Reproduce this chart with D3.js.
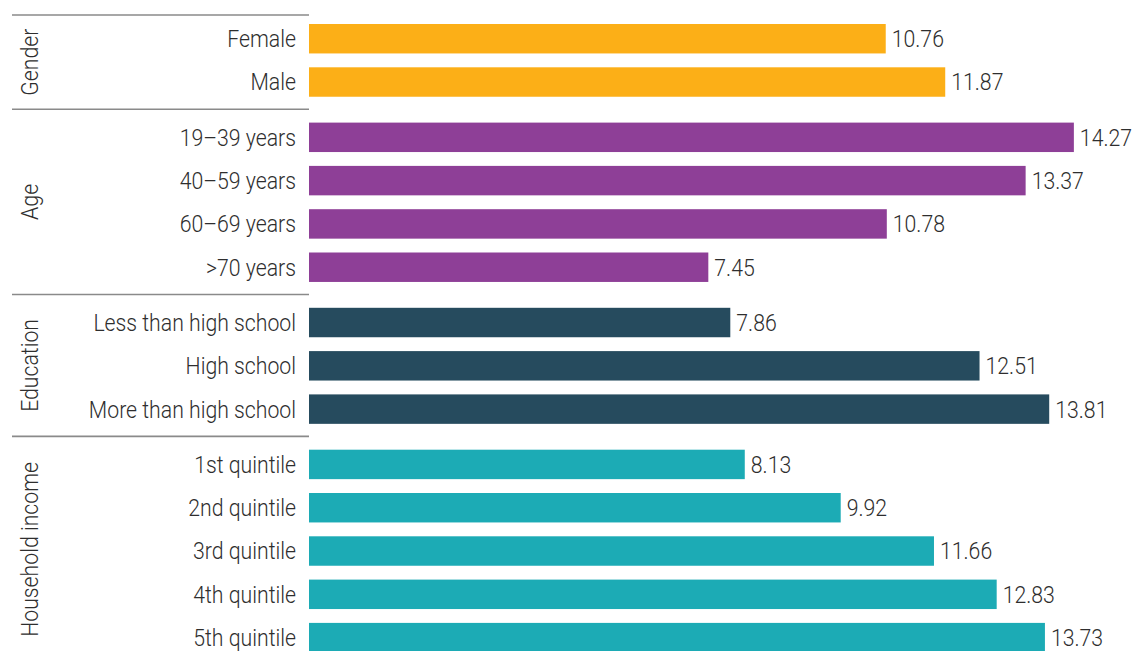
<!DOCTYPE html>
<html>
<head>
<meta charset="utf-8">
<script src="https://cdn.jsdelivr.net/npm/d3@7"></script>
<style>
  html, body { margin: 0; padding: 0; background: #fff; }
  svg { display: block; }
  text { font-family: Roboto, "Noto Sans", sans-serif; font-weight: 300; fill: #2e2e2e; }
</style>
</head>
<body>
<svg id="chart" width="1134" height="651"></svg>
<script>
// Group headings, categories and their values
const groups = ["Gender", "Age", "Education", "Household income"];
const categories = [
  "Female", "Male",
  "19\u201339 years", "40\u201359 years", "60\u201369 years", ">70 years",
  "Less than high school", "High school", "More than high school",
  "1st quintile", "2nd quintile", "3rd quintile", "4th quintile", "5th quintile"
];
const values = [10.76, 11.87, 14.27, 13.37, 10.78, 7.45, 7.86, 12.51, 13.81, 8.13, 9.92, 11.66, 12.83, 13.73];
const groupOf = [0, 0, 1, 1, 1, 1, 2, 2, 2, 3, 3, 3, 3, 3];
const groupColors = ["#FCAF17", "#8E3F97", "#264B5E", "#1CABB5"];

const rows = categories.map((c, i) => ({ cat: c, value: values[i], group: groupOf[i] }));

const svg = d3.select("#chart");
const fontSize = 24;
const squeeze = 0.885;    // narrow letterforms
const groupGap = 12;

const x = d3.scaleLinear().domain([0, 15]).range([309, 309 + 15 * 53.6]);
const step = 43.3, pad = 0.32;
const yBand = d3.scaleBand()
  .domain(categories)
  .range([24, 24 + step * (categories.length - pad)])
  .paddingInner(pad)
  .paddingOuter(0);
const y = d => yBand(d.cat) + d.group * groupGap;
const bh = yBand.bandwidth();

// bars
svg.append("g").selectAll("rect").data(rows).join("rect")
  .attr("x", x(0))
  .attr("y", d => y(d))
  .attr("width", d => x(d.value) - x(0))
  .attr("height", bh)
  .attr("fill", d => groupColors[d.group]);

// value labels
svg.append("g").selectAll("text").data(rows).join("text")
  .attr("transform", d => `translate(${x(d.value) + 6},${y(d) + bh / 2}) scale(${squeeze},1)`)
  .attr("dy", "0.35em")
  .style("font-size", fontSize + "px")
  .text(d => d.value.toFixed(2));

// category labels
svg.append("g").selectAll("text").data(rows).join("text")
  .attr("transform", d => `translate(296,${y(d) + bh / 2}) scale(${squeeze},1)`)
  .attr("dy", "0.35em")
  .attr("text-anchor", "end")
  .style("font-size", fontSize + "px")
  .text(d => d.cat);

// group separators and rotated headings
const firstRow = groups.map((g, gi) => rows.find(r => r.group === gi));
const lastRow = groups.map((g, gi) => rows.filter(r => r.group === gi).slice(-1)[0]);
const sepY = firstRow.map((r, gi) => y(r) - (gi === 0 ? 9 : 13.3));
const endY = groups.map((g, gi) => gi < groups.length - 1 ? sepY[gi + 1] : y(lastRow[gi]) + bh + 10);

svg.append("g").selectAll("line").data(sepY).join("line")
  .attr("x1", 12).attr("x2", x(0))
  .attr("y1", d => d).attr("y2", d => d)
  .attr("stroke", "#8a8a8a")
  .attr("stroke-width", 1.6);

svg.append("g").selectAll("text").data(groups).join("text")
  .attr("transform", (d, i) => `translate(38,${(sepY[i] + endY[i]) / 2}) rotate(-90) scale(${squeeze},1)`)
  .attr("text-anchor", "middle")
  .style("font-size", fontSize + "px")
  .text(d => d);
</script>
</body>
</html>
